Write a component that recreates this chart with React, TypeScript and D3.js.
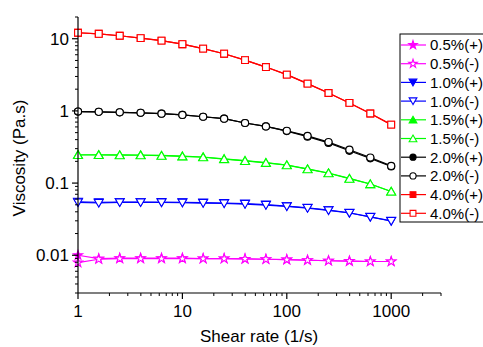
import * as d3 from "d3";

// shear rates, 5 points per decade
const shearRates = [1, 1.58, 2.51, 3.98, 6.31, 10, 15.8, 25.1, 39.8, 63.1, 100, 158, 251, 398, 631, 1000];

const v05p = [0.0100, 0.0090, 0.0091, 0.0091, 0.0091, 0.0091, 0.0090, 0.0090, 0.0089, 0.0088, 0.0087, 0.00855, 0.0084, 0.0083, 0.0082, 0.0082];
const v05m = [0.0079, 0.0088, 0.0090, 0.0090, 0.0090, 0.0090, 0.0090, 0.0090, 0.0089, 0.0088, 0.0087, 0.00853, 0.0084, 0.0083, 0.0082, 0.0082];
const v10p = [0.0550, 0.0540, 0.0545, 0.0545, 0.0543, 0.0540, 0.0535, 0.0530, 0.0518, 0.0502, 0.0480, 0.0455, 0.0422, 0.0388, 0.0341, 0.0299];
const v10m = [0.0540, 0.0530, 0.0540, 0.0540, 0.0538, 0.0535, 0.0529, 0.0522, 0.0512, 0.0496, 0.0475, 0.0451, 0.0418, 0.0385, 0.0339, 0.0298];
const v15p = [0.247, 0.247, 0.246, 0.245, 0.242, 0.237, 0.230, 0.217, 0.205, 0.192, 0.178, 0.157, 0.138, 0.116, 0.097, 0.0765];
const v15m = [0.245, 0.245, 0.244, 0.243, 0.240, 0.235, 0.228, 0.215, 0.203, 0.191, 0.177, 0.156, 0.137, 0.115, 0.097, 0.0765];
const v20p = [0.98, 0.97, 0.955, 0.94, 0.915, 0.88, 0.83, 0.78, 0.68, 0.61, 0.525, 0.44, 0.36, 0.28, 0.22, 0.170];
const v20m = [0.98, 0.97, 0.955, 0.94, 0.915, 0.88, 0.83, 0.78, 0.68, 0.61, 0.53, 0.45, 0.37, 0.29, 0.226, 0.173];
const v40p = [12.1, 11.7, 11.0, 10.2, 9.4, 8.4, 7.3, 6.2, 5.06, 4.05, 3.18, 2.39, 1.77, 1.29, 0.92, 0.646];
const v40m = [12.1, 11.7, 11.0, 10.2, 9.4, 8.4, 7.3, 6.2, 5.06, 4.05, 3.18, 2.39, 1.77, 1.29, 0.92, 0.646];

const seriesNames = ["0.5%(+)", "0.5%(-)", "1.0%(+)", "1.0%(-)", "1.5%(+)", "1.5%(-)", "2.0%(+)", "2.0%(-)", "4.0%(+)", "4.0%(-)"];
const seriesValues = [v05p, v05m, v10p, v10m, v15p, v15m, v20p, v20m, v40p, v40m];
const seriesColors = ["#ff00ff", "#ff00ff", "#0000ff", "#0000ff", "#00ff00", "#00ff00", "#000000", "#000000", "#ff0000", "#ff0000"];
const seriesShapes = ["star", "star", "down", "down", "up", "up", "circle", "circle", "square", "square"];
const seriesFilled = [true, false, true, false, true, false, true, false, true, false];

const xTicks = [1, 10, 100, 1000];
const yTicks = [0.01, 0.1, 1, 10];

const W = 483;
const H = 347;
const font = "Liberation Sans, Arial, sans-serif";

// marker areas for d3.symbol (plot / legend)
const plotSize: Record<string, number> = { star: 26, down: 34, up: 34, circle: 40, square: 46 };
const legendSize: Record<string, number> = { star: 22, down: 26, up: 26, circle: 30, square: 34 };

function symbolPath(shape: string, size: number) {
  const type =
    shape === "star" ? d3.symbolStar :
    shape === "circle" ? d3.symbolCircle :
    shape === "square" ? d3.symbolSquare : d3.symbolTriangle;
  return d3.symbol(type, size)() || "";
}

function Marker({ x, y, shape, color, filled, size }: any) {
  const rot = shape === "down" ? 180 : 0;
  const dy = shape === "down" ? -1 : shape === "up" ? 1 : 0;
  return (
    <path
      d={symbolPath(shape, size)}
      transform={`translate(${x},${y + dy}) rotate(${rot})`}
      fill={filled ? color : "#fff"}
      stroke={color}
      strokeWidth={1.1}
    />
  );
}

export default function App() {
  const x = d3.scaleLog().domain([1, 3000]).range([78, 441]);
  const y = d3.scaleLog().domain([0.003, 20]).range([293, 17]);

  const line = d3.line<number>()
    .x((_, i) => x(shearRates[i]))
    .y((d) => y(d));

  // minor ticks
  const xMinor: number[] = [];
  for (let e = 0; e <= 3; e++) for (let m = 2; m <= 9; m++) {
    const v = m * Math.pow(10, e);
    if (v <= 3000) xMinor.push(v);
  }
  const yMinor: number[] = [];
  for (let e = -3; e <= 1; e++) for (let m = 1; m <= 9; m++) {
    const v = m * Math.pow(10, e);
    if (v >= 0.003 - 1e-9 && v <= 20 + 1e-9 && !yTicks.some((t) => Math.abs(t - v) < 1e-9)) yMinor.push(v);
  }

  const legX = 400;
  const legY0 = 45;
  const legStep = 18.7;

  return (
    <svg width={W} height={H} style={{ position: "absolute", left: 0, top: 0, background: "#fff" }} fontFamily={font}>
      {/* series */}
      {seriesValues.map((vals, k) => (
        <g key={k}>
          <path d={line(vals) || ""} fill="none" stroke={seriesColors[k]} strokeWidth={1.2} />
          {vals.map((v, i) => (
            <Marker key={i} x={x(shearRates[i])} y={y(v)} shape={seriesShapes[k]} color={seriesColors[k]}
              filled={seriesFilled[k]} size={plotSize[seriesShapes[k]]} />
          ))}
        </g>
      ))}

      {/* axes */}
      <line x1={78} x2={78} y1={y(20)} y2={293} stroke="#000" strokeWidth={1.2} />
      <line x1={78} x2={x(3000)} y1={293} y2={293} stroke="#000" strokeWidth={1.2} />
      {yTicks.map((t) => (
        <g key={t}>
          <line x1={72} x2={78} y1={y(t)} y2={y(t)} stroke="#000" strokeWidth={1.2} />
          <text x={69} y={y(t)} dy="0.36em" textAnchor="end" fontSize={17}>{t}</text>
        </g>
      ))}
      {yMinor.map((t) => (
        <line key={t} x1={75} x2={78} y1={y(t)} y2={y(t)} stroke="#000" strokeWidth={1} />
      ))}
      {xTicks.map((t) => (
        <g key={t}>
          <line x1={x(t)} x2={x(t)} y1={293} y2={299} stroke="#000" strokeWidth={1.2} />
          <text x={x(t)} y={317} textAnchor="middle" fontSize={17}>{t}</text>
        </g>
      ))}
      {xMinor.map((t) => (
        <line key={t} x1={x(t)} x2={x(t)} y1={293} y2={296} stroke="#000" strokeWidth={1} />
      ))}

      <text x={259} y={342} textAnchor="middle" fontSize={17}>Shear rate (1/s)</text>
      <text transform="translate(25,158) rotate(-90)" textAnchor="middle" fontSize={17}>Viscosity (Pa.s)</text>

      {/* legend */}
      <rect x={legX} y={34} width={100} height={188} fill="#fff" stroke="#000" strokeWidth={1} />
      {seriesNames.map((name, k) => {
        const ly = legY0 + k * legStep;
        return (
          <g key={name}>
            <line x1={legX + 1} x2={legX + 26} y1={ly} y2={ly} stroke={seriesColors[k]} strokeWidth={1.2} />
            <Marker x={legX + 13} y={ly} shape={seriesShapes[k]} color={seriesColors[k]} filled={seriesFilled[k]}
              size={legendSize[seriesShapes[k]]} />
            <text x={legX + 30} y={ly} dy="0.36em" fontSize={15}>{name}</text>
          </g>
        );
      })}
    </svg>
  );
}
